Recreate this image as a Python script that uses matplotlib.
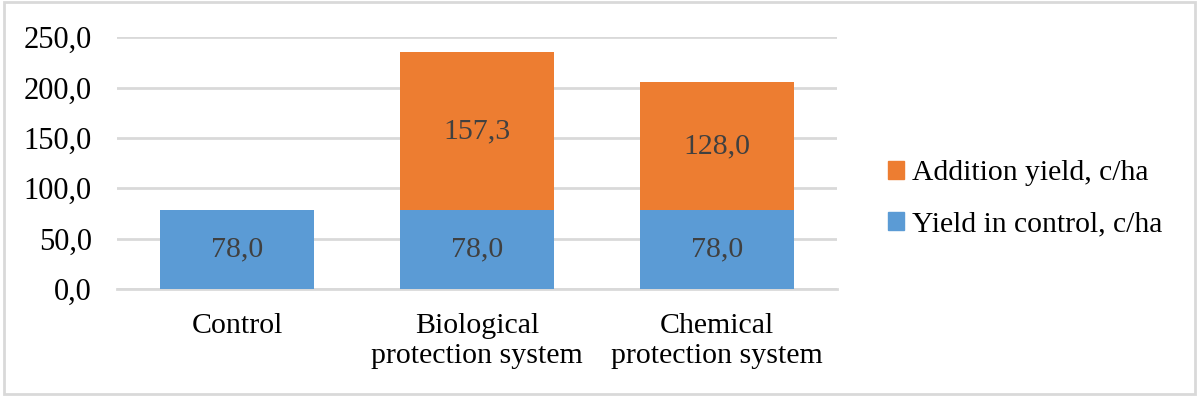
import matplotlib
matplotlib.use("Agg")
import matplotlib.pyplot as plt
from matplotlib.patches import Rectangle

plt.rcParams['font.family'] = ['Liberation Serif', 'DejaVu Serif']

categories = ["Control", "Biological\nprotection system", "Chemical\nprotection system"]
yield_control = [78.0, 78.0, 78.0]
addition_yield = [0.0, 157.3, 128.0]
yticks = [0, 50, 100, 150, 200, 250]

blue = "#5B9BD5"
orange = "#ED7D31"
grid = "#D9D9D9"

def fmt(v):
    return f"{v:.1f}".replace(".", ",")

fig = plt.figure(figsize=(12, 3.99), dpi=100)
ax = fig.add_axes([0.0975, 0.2757, 0.6, 0.6308])

x = range(len(categories))
b1 = ax.bar(x, yield_control, width=0.64, color=blue, zorder=3)
b2 = ax.bar(x, addition_yield, width=0.64, bottom=yield_control, color=orange, zorder=3)

# value labels in the middle of each segment
for i in x:
    ax.text(i, yield_control[i] / 2, fmt(yield_control[i]), ha="center", va="center",
            fontsize=21.5, color="#404040", zorder=4)
    if addition_yield[i] > 0:
        ax.text(i, yield_control[i] + addition_yield[i] / 2, fmt(addition_yield[i]),
                ha="center", va="center", fontsize=21.5, color="#404040", zorder=4)

ax.set_xlim(-0.5, 2.5)
ax.set_ylim(0, 250)
ax.set_yticks(yticks)
ax.set_yticklabels([fmt(v) for v in yticks], fontsize=22)
ax.set_xticks(list(x))
ax.set_xticklabels(categories, fontsize=21.5, linespacing=1.2)
ax.tick_params(length=0)
ax.tick_params(axis="x", pad=17)
ax.tick_params(axis="y", pad=18)
ax.yaxis.grid(True, color=grid, linewidth=2, zorder=0)
for s in ["top", "right", "left"]:
    ax.spines[s].set_visible(False)
ax.spines["bottom"].set_color(grid)
ax.spines["bottom"].set_linewidth(2)
ax.spines["bottom"].set_zorder(2)

handles = [Rectangle((0, 0), 1, 1, color=orange), Rectangle((0, 0), 1, 1, color=blue)]
fig.legend(handles, ["Addition yield, c/ha", "Yield in control, c/ha"],
           loc="center left", bbox_to_anchor=(0.718, 0.502), frameon=False,
           fontsize=21.3, handlelength=0.55, handleheight=0.55, handletextpad=0.25,
           labelspacing=0.85)

# light frame around the whole chart
fig.add_artist(Rectangle((0.003, 0.012), 0.993, 0.982, transform=fig.transFigure,
                         fill=False, edgecolor=grid, linewidth=2))

fig.savefig("out.png", dpi=100)
